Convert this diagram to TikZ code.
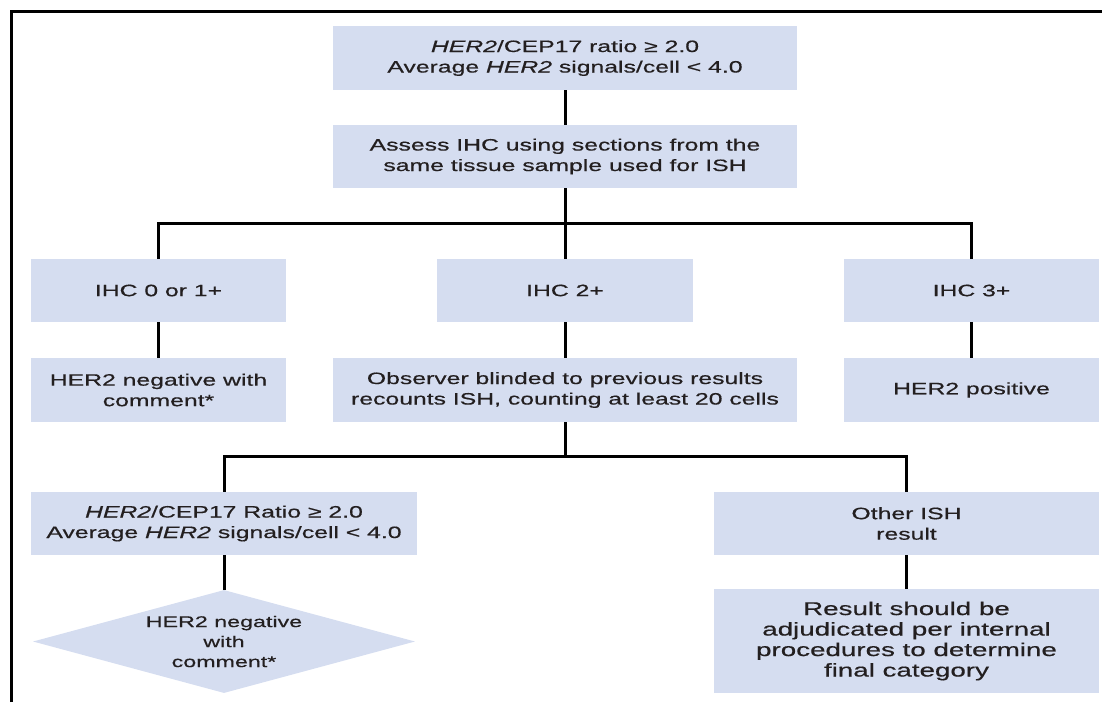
\documentclass[tikz,border=0pt]{standalone}
\usepackage{fontspec}
\setmainfont[FakeStretch=1.5,FakeBold=0.5]{Liberation Sans}
\usetikzlibrary{shapes.geometric}
\definecolor{boxfill}{RGB}{213,221,240}
\definecolor{ink}{RGB}{35,31,32}
\begin{document}
\begin{tikzpicture}[x=1pt,y=-1pt,
  box/.style={fill=boxfill,draw=none,inner sep=0pt,align=center,text=ink,
    font=\fontsize{16.5}{20.5}\selectfont},
  wide/.style={box,minimum width=464pt,minimum height=64pt},
  narrow/.style={box,minimum width=255pt,minimum height=63pt},
  half/.style={box,minimum width=386pt,minimum height=63pt},
  decision/.style={diamond,fill=boxfill,draw=none,inner sep=0pt,aspect=3.7,
    minimum width=382pt,minimum height=103pt,align=center,text=ink,
    font=\fontsize{15.5}{20}\selectfont},
  link/.style={draw=black,line width=3pt}]
\useasboundingbox (0,0) rectangle (1102,702);
% outer frame (left and top edges)
\draw[line width=2.7pt] (11.3,702) -- (11.3,11.3) -- (1102,11.3);

% top of the chart
\node[wide] (start) at (565,58) {\textit{HER2}/CEP17 ratio ≥ 2.0\\Average \textit{HER2} signals/cell < 4.0};
\node[wide,minimum height=63pt] (assess) at (565,156.5) {Assess IHC using sections from the\\same tissue sample used for ISH};

% IHC scores
\node[narrow] (ihcA) at (158.5,290.5) {IHC 0 or 1+};
\node[narrow,minimum width=256pt] (ihcB) at (565,290.5) {IHC 2+};
\node[narrow] (ihcC) at (971.5,290.5) {IHC 3+};

% outcomes of the IHC scores
\node[narrow,minimum height=64pt] (negA) at (158.5,390) {HER2 negative with\\comment*};
\node[wide] (recount) at (565,390) {Observer blinded to previous results\\recounts ISH, counting at least 20 cells};
\node[narrow,minimum height=64pt] (posC) at (971.5,390) {HER2 positive};

% recount results
\node[half] (ratio) at (224,523.5) {\textit{HER2}/CEP17 Ratio ≥ 2.0\\Average \textit{HER2} signals/cell < 4.0};
\node[half,minimum width=385pt] (other) at (906.5,523.5) {Other ISH\\result};

\node[decision] (negB) at (224,641.5) {HER2 negative\\with\\comment*};
\node[box,minimum width=385pt,minimum height=104pt,font=\fontsize{18.5}{20.5}\selectfont] (adjud) at (906.5,641) {Result should be\\adjudicated per internal\\procedures to determine\\final category};

% branch points
\coordinate (splitA) at (565,223);
\coordinate (splitB) at (565,456);

% connectors
\draw[link] (start) -- (assess);
\draw[link] (assess) -- (ihcB);
\draw[link] (ihcA.north) |- (splitA) -| (ihcC.north);
\draw[link] (ihcA) -- (negA);
\draw[link] (ihcB) -- (recount);
\draw[link] (ihcC) -- (posC);
\draw[link] (recount) -- (splitB);
\draw[link] (ratio.north) |- (splitB) -| (other.north);
\draw[link] (ratio) -- (negB);
\draw[link] (other) -- (adjud);
\end{tikzpicture}
\end{document}
